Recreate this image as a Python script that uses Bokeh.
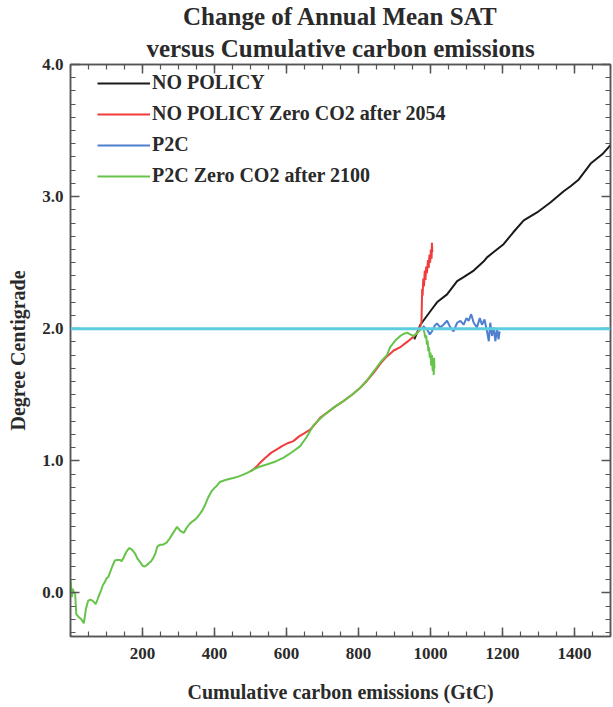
from bokeh.plotting import figure
from bokeh.models import (Title, LinearAxis, FixedTicker, PrintfTickFormatter, Span,
                          Legend, LegendItem, Range1d)
from bokeh.embed import file_html
from bokeh.resources import INLINE

# ---------------- data ----------------
green_x = [0, 2, 4, 6, 10, 13, 16, 22, 30, 37, 43, 49, 55, 62, 70, 75, 79, 85, 90, 95, 100,
           105, 109, 116, 123, 130, 137, 142, 148, 155, 163, 170, 179, 186, 193, 200, 206,
           212, 216, 224, 230, 236, 241, 249, 257, 267, 275, 283, 290, 296, 305, 315, 322,
           330, 338, 346, 353, 360, 366, 373, 382, 392, 400, 406, 415, 430, 452, 466, 480,
           495, 508, 525, 545, 570, 591, 615, 638, 656, 675, 694, 712, 735, 758, 782, 805,
           825, 843, 862, 879, 888, 902, 916, 925, 935, 945, 953, 960, 967, 973, 979, 983,
           986, 988, 990, 992, 994, 996, 998, 1000, 1002, 1004, 1006, 1007, 1009, 1010, 1011]
green_y = [0.10, 0.04, -0.03, 0.03, 0.0, -0.01, -0.16, -0.18, -0.20, -0.23, -0.12, -0.06,
           -0.05, -0.06, -0.085, -0.05, -0.02, 0.02, 0.06, 0.08, 0.11, 0.12, 0.15, 0.20,
           0.245, 0.25, 0.25, 0.24, 0.27, 0.31, 0.34, 0.33, 0.30, 0.26, 0.235, 0.205, 0.20,
           0.21, 0.22, 0.24, 0.265, 0.30, 0.35, 0.365, 0.365, 0.38, 0.41, 0.445, 0.475, 0.50,
           0.47, 0.455, 0.49, 0.52, 0.54, 0.555, 0.575, 0.60, 0.625, 0.66, 0.72, 0.77, 0.795,
           0.81, 0.84, 0.855, 0.87, 0.88, 0.895, 0.915, 0.934, 0.955, 0.972, 0.995, 1.022,
           1.065, 1.111, 1.18, 1.27, 1.32, 1.363, 1.41, 1.452, 1.50, 1.553, 1.615, 1.68, 1.75,
           1.80, 1.86, 1.91, 1.945, 1.96, 1.97, 1.955, 1.945, 1.96, 1.98, 1.995, 2.01, 1.97,
           1.93, 1.95, 1.88, 1.91, 1.83, 1.86, 1.78, 1.82, 1.72, 1.80, 1.68, 1.76, 1.65, 1.78,
           1.70]

red_x = [500, 510, 520, 526, 540, 557, 573, 590, 605, 619, 635, 650, 666, 680, 695, 712, 735,
         758, 782, 805, 825, 843, 862, 879, 898, 916, 935, 953, 965, 972, 975, 976, 977, 978,
         980, 982, 984, 986, 988, 990, 993, 995, 997, 999, 1001, 1003, 1004, 1005]
red_y = [0.92, 0.94, 0.965, 0.984, 1.02, 1.06, 1.086, 1.115, 1.135, 1.149, 1.185, 1.21, 1.237,
         1.28, 1.33, 1.363, 1.41, 1.452, 1.50, 1.553, 1.61, 1.67, 1.74, 1.79, 1.835, 1.86,
         1.90, 1.94, 1.975, 2.02, 2.05, 2.20, 2.30, 2.25, 2.38, 2.32, 2.44, 2.37, 2.47, 2.42,
         2.52, 2.46, 2.56, 2.50, 2.60, 2.53, 2.65, 2.58]

black_x = [955, 972, 999, 1018, 1046, 1074, 1092, 1120, 1148, 1157, 1180, 1203, 1230,
           1259, 1296, 1333, 1370, 1390, 1412, 1445, 1477, 1500]
black_y = [1.92, 2.03, 2.13, 2.20, 2.26, 2.36, 2.39, 2.44, 2.51, 2.54, 2.59, 2.64,
           2.73, 2.82, 2.88, 2.955, 3.04, 3.08, 3.13, 3.25, 3.32, 3.39]

blue_x = [979, 990, 998, 1004, 1011, 1018, 1027, 1036, 1046, 1055, 1064, 1074, 1083, 1092,
          1100, 1106, 1113, 1120, 1129, 1137, 1143, 1150, 1157, 1162, 1166, 1171, 1176, 1180,
          1185, 1189, 1192]
blue_y = [2.02, 1.995, 1.957, 1.98, 2.02, 2.04, 2.01, 2.03, 2.06, 2.01, 1.98, 2.045, 2.06,
          2.03, 2.08, 2.06, 2.11, 2.045, 2.01, 2.08, 2.03, 2.07, 1.98, 1.905, 2.045, 1.945,
          2.01, 1.905, 1.995, 1.92, 1.98]

threshold = 2.0
x_major = [200, 400, 600, 800, 1000, 1200, 1400]
y_major = [0.0, 1.0, 2.0, 3.0, 4.0]
series_names = ["NO POLICY", "NO POLICY Zero CO2 after 2054", "P2C", "P2C Zero CO2 after 2100"]
title_lines = ["Change of Annual Mean SAT", "versus Cumulative carbon emissions"]

# ---------------- figure ----------------
FONT = "Liberation Serif"
TXT = "#2a2a2a"
p = figure(frame_width=540, frame_height=572, x_range=Range1d(0, 1500),
           y_range=Range1d(-0.33, 4.0),
           output_backend="svg", toolbar_location=None, title=None,
           min_border_left=70, min_border_right=2, min_border_bottom=72, min_border_top=62)
p.xgrid.visible = False
p.ygrid.visible = False
p.outline_line_color = "#555555"
p.outline_line_width = 1.5

xt = FixedTicker(ticks=x_major, minor_ticks=list(range(0, 1501, 50)))
yt = FixedTicker(ticks=y_major, minor_ticks=[round(-0.3 + 0.1 * i, 2) for i in range(44)])

def style_axis(ax, labels=True, ticks=None):
    ax.axis_line_color = "#555555"
    ax.axis_line_width = 1.5
    ax.major_tick_line_color = "#555555"
    ax.minor_tick_line_color = "#555555"
    ax.major_tick_line_width = 1.5
    ax.minor_tick_line_width = 1.2
    ax.major_tick_in = 9
    ax.major_tick_out = 0
    ax.minor_tick_in = 5
    ax.minor_tick_out = 0
    ax.major_label_text_font = FONT
    ax.major_label_text_font_style = "bold"
    ax.major_label_text_font_size = "17px"
    ax.major_label_text_color = TXT
    ax.axis_label_text_font = FONT
    ax.axis_label_text_font_style = "bold"
    ax.axis_label_text_font_size = "20px"
    ax.axis_label_text_color = TXT
    if not labels:
        ax.major_label_overrides = {t: "" for t in ticks}
        ax.major_label_text_font_size = "1px"
        ax.major_label_standoff = 0

xa = p.xaxis[0]
xa.ticker = xt
style_axis(xa)
xa.axis_label = "Cumulative carbon emissions (GtC)"
xa.major_label_standoff = 11
xa.axis_label_standoff = 19

ya = p.yaxis[0]
ya.ticker = yt
ya.formatter = PrintfTickFormatter(format="%.1f")
style_axis(ya)
ya.axis_label = "Degree Centigrade"
ya.major_label_standoff = 7
ya.axis_label_standoff = 10

xr = LinearAxis(ticker=xt)
style_axis(xr, labels=False, ticks=x_major)
p.add_layout(xr, "above")
yr = LinearAxis(ticker=yt)
style_axis(yr, labels=False, ticks=y_major)
p.add_layout(yr, "right")

# title: second line closest to the plot, first line above it
p.add_layout(Title(text=title_lines[1], align="center",
                   text_font=FONT, text_font_style="bold", text_font_size="25px",
                   text_color=TXT, standoff=6, offset=0), "above")
p.add_layout(Title(text=title_lines[0], align="center",
                   text_font=FONT, text_font_style="bold", text_font_size="25px",
                   text_color=TXT, standoff=0, offset=0), "above")

p.add_layout(Span(location=threshold, dimension="width", line_color="#5ccce0", line_width=3))

r_black = p.line(black_x, black_y, line_color="#1a1a1a", line_width=2)
r_red = p.line(red_x, red_y, line_color="#f03c3c", line_width=2)
r_blue = p.line(blue_x, blue_y, line_color="#4f7fcf", line_width=2)
r_green = p.line(green_x, green_y, line_color="#66c44a", line_width=2)

legend = Legend(items=[LegendItem(label=series_names[0], renderers=[r_black]),
                       LegendItem(label=series_names[1], renderers=[r_red]),
                       LegendItem(label=series_names[2], renderers=[r_blue]),
                       LegendItem(label=series_names[3], renderers=[r_green])],
                location=(18, 440), orientation="vertical",
                glyph_width=53, glyph_height=20, label_height=20, spacing=8,
                padding=9, margin=0, label_standoff=2,
                label_text_font=FONT, label_text_font_style="bold",
                label_text_font_size="20px", label_text_color=TXT,
                border_line_alpha=0, background_fill_alpha=0)
p.add_layout(legend)

open("out.html", "w").write(file_html(p, INLINE))
